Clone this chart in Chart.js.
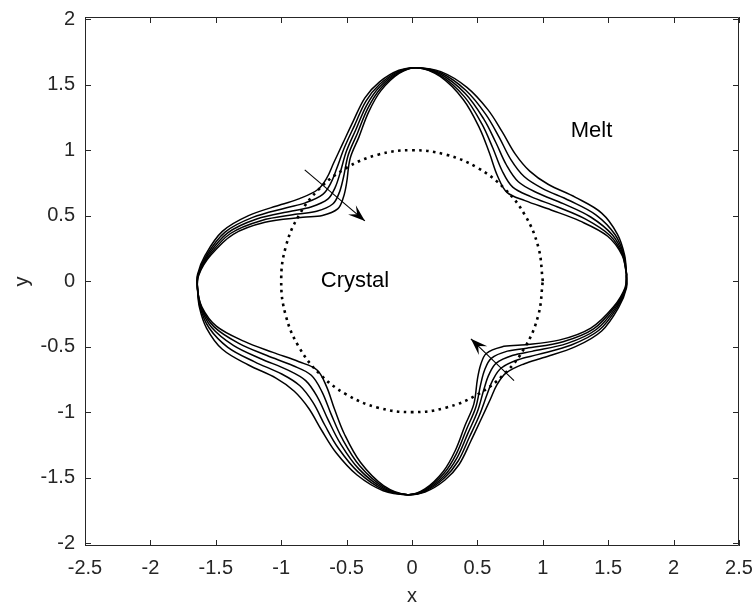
<!DOCTYPE html>
<html>
<head>
<meta charset="utf-8">
<script src="https://cdn.jsdelivr.net/npm/chart.js@4.4.1/dist/chart.umd.min.js"></script>
<style>
  html, body { margin: 0; padding: 0; background: #fff; }
</style>
</head>
<body>
<canvas id="chart" width="753" height="604"></canvas>
<script>
// axis ticks
const xTicks = [-2.5, -2, -1.5, -1, -0.5, 0, 0.5, 1, 1.5, 2, 2.5];
const xTickLabels = ['-2.5', '-2', '-1.5', '-1', '-0.5', '0', '0.5', '1', '1.5', '2', '2.5'];
const yTicks = [-2, -1.5, -1, -0.5, 0, 0.5, 1, 1.5, 2];
const yTickLabels = ['-2', '-1.5', '-1', '-0.5', '0', '0.5', '1', '1.5', '2'];

// interface curves, outermost (at the arrow waists) to innermost
const curve1 = [
  [1.640,0.055],
  [1.625,0.200],[1.570,0.360],[1.450,0.520],[1.250,0.640],[1.040,0.740],[0.900,0.840],[0.790,0.970],[0.690,1.140],[0.580,1.310],[0.420,1.480],[0.220,1.600],
  [0.035,1.630],
  [-0.100,1.610],[-0.250,1.520],[-0.360,1.400],[-0.450,1.220],[-0.530,1.050],[-0.600,0.900],[-0.650,0.790],[-0.720,0.700],[-0.860,0.630],[-1.000,0.585],[-1.250,0.500],[-1.450,0.380],[-1.580,0.200],[-1.640,0.050],
  [-1.640,-0.055],
  [-1.625,-0.200],[-1.570,-0.360],[-1.450,-0.520],[-1.250,-0.640],[-1.040,-0.740],[-0.900,-0.840],[-0.790,-0.970],[-0.690,-1.140],[-0.580,-1.310],[-0.420,-1.480],[-0.220,-1.600],
  [-0.035,-1.630],
  [0.100,-1.610],[0.250,-1.520],[0.360,-1.400],[0.450,-1.220],[0.530,-1.050],[0.600,-0.900],[0.650,-0.790],[0.720,-0.700],[0.860,-0.630],[1.000,-0.585],[1.250,-0.500],[1.450,-0.380],[1.580,-0.200],[1.640,-0.050],
  [1.640,0.055]
];
const curve2 = [
  [1.640,0.055],
  [1.620,0.199],[1.552,0.356],[1.408,0.505],[1.203,0.616],[0.996,0.709],[0.857,0.799],[0.756,0.928],[0.666,1.100],[0.564,1.274],[0.413,1.456],[0.219,1.591],
  [0.035,1.630],
  [-0.100,1.604],[-0.247,1.503],[-0.353,1.373],[-0.439,1.190],[-0.516,1.022],[-0.575,0.862],[-0.619,0.752],[-0.682,0.663],[-0.816,0.598],[-0.959,0.561],[-1.218,0.487],[-1.429,0.375],[-1.570,0.199],[-1.637,0.050],
  [-1.640,-0.055],
  [-1.620,-0.199],[-1.552,-0.356],[-1.408,-0.505],[-1.203,-0.616],[-0.996,-0.709],[-0.857,-0.799],[-0.756,-0.928],[-0.666,-1.100],[-0.564,-1.274],[-0.413,-1.456],[-0.219,-1.591],
  [-0.035,-1.630],
  [0.100,-1.604],[0.247,-1.503],[0.353,-1.373],[0.439,-1.190],[0.516,-1.022],[0.575,-0.862],[0.619,-0.752],[0.682,-0.663],[0.816,-0.598],[0.959,-0.561],[1.218,-0.487],[1.429,-0.375],[1.570,-0.199],[1.637,-0.050],
  [1.640,0.055]
];
const curve3 = [
  [1.640,0.055],
  [1.615,0.199],[1.533,0.352],[1.366,0.490],[1.156,0.592],[0.952,0.677],[0.813,0.759],[0.722,0.887],[0.641,1.059],[0.548,1.239],[0.407,1.433],[0.217,1.582],
  [0.035,1.630],
  [-0.099,1.598],[-0.245,1.487],[-0.346,1.345],[-0.428,1.160],[-0.501,0.993],[-0.550,0.825],[-0.588,0.714],[-0.644,0.626],[-0.773,0.566],[-0.917,0.536],[-1.187,0.475],[-1.409,0.369],[-1.560,0.198],[-1.634,0.050],
  [-1.640,-0.055],
  [-1.615,-0.199],[-1.533,-0.352],[-1.366,-0.490],[-1.156,-0.592],[-0.952,-0.677],[-0.813,-0.759],[-0.722,-0.887],[-0.641,-1.059],[-0.548,-1.239],[-0.407,-1.433],[-0.217,-1.582],
  [-0.035,-1.630],
  [0.099,-1.598],[0.245,-1.487],[0.346,-1.345],[0.428,-1.160],[0.501,-0.993],[0.550,-0.825],[0.588,-0.714],[0.644,-0.626],[0.773,-0.566],[0.917,-0.536],[1.187,-0.475],[1.409,-0.369],[1.560,-0.198],[1.634,-0.050],
  [1.640,0.055]
];
const curve4 = [
  [1.640,0.055],
  [1.610,0.198],[1.515,0.347],[1.324,0.475],[1.109,0.568],[0.908,0.646],[0.770,0.718],[0.688,0.845],[0.617,1.019],[0.533,1.203],[0.400,1.409],[0.216,1.572],
  [0.035,1.630],
  [-0.099,1.592],[-0.242,1.470],[-0.339,1.318],[-0.417,1.130],[-0.487,0.965],[-0.525,0.788],[-0.556,0.676],[-0.606,0.589],[-0.729,0.534],[-0.876,0.512],[-1.155,0.462],[-1.388,0.364],[-1.550,0.196],[-1.632,0.050],
  [-1.640,-0.055],
  [-1.610,-0.198],[-1.515,-0.347],[-1.324,-0.475],[-1.109,-0.568],[-0.908,-0.646],[-0.770,-0.718],[-0.688,-0.845],[-0.617,-1.019],[-0.533,-1.203],[-0.400,-1.409],[-0.216,-1.572],
  [-0.035,-1.630],
  [0.099,-1.592],[0.242,-1.470],[0.339,-1.318],[0.417,-1.130],[0.487,-0.965],[0.525,-0.788],[0.556,-0.676],[0.606,-0.589],[0.729,-0.534],[0.876,-0.512],[1.155,-0.462],[1.388,-0.364],[1.550,-0.196],[1.632,-0.050],
  [1.640,0.055]
];
const curve5 = [
  [1.640,0.055],
  [1.606,0.198],[1.496,0.343],[1.282,0.460],[1.063,0.544],[0.864,0.615],[0.726,0.678],[0.654,0.803],[0.592,0.978],[0.517,1.167],[0.393,1.385],[0.215,1.563],
  [0.035,1.630],
  [-0.099,1.586],[-0.239,1.453],[-0.332,1.291],[-0.406,1.100],[-0.473,0.937],[-0.500,0.750],[-0.525,0.638],[-0.568,0.552],[-0.685,0.502],[-0.834,0.488],[-1.124,0.450],[-1.367,0.358],[-1.541,0.195],[-1.629,0.050],
  [-1.640,-0.055],
  [-1.606,-0.198],[-1.496,-0.343],[-1.282,-0.460],[-1.063,-0.544],[-0.864,-0.615],[-0.726,-0.678],[-0.654,-0.803],[-0.592,-0.978],[-0.517,-1.167],[-0.393,-1.385],[-0.215,-1.563],
  [-0.035,-1.630],
  [0.099,-1.586],[0.239,-1.453],[0.332,-1.291],[0.406,-1.100],[0.473,-0.937],[0.500,-0.750],[0.525,-0.638],[0.568,-0.552],[0.685,-0.502],[0.834,-0.488],[1.124,-0.450],[1.367,-0.358],[1.541,-0.195],[1.629,-0.050],
  [1.640,0.055]
];

// initial crystal (unit circle, dotted)
const circlePts = [
  [1,0],[0.966,0.259],[0.866,0.5],[0.707,0.707],[0.5,0.866],[0.259,0.966],
  [0,1],[-0.259,0.966],[-0.5,0.866],[-0.707,0.707],[-0.866,0.5],[-0.966,0.259],
  [-1,0],[-0.966,-0.259],[-0.866,-0.5],[-0.707,-0.707],[-0.5,-0.866],[-0.259,-0.966],
  [0,-1],[0.259,-0.966],[0.5,-0.866],[0.707,-0.707],[0.866,-0.5],[0.966,-0.259],[1,0]
];

// arrows: tail -> head
const arrow1 = [[-0.82, 0.85], [-0.36, 0.46]];
const arrow2 = [[0.78, -0.76], [0.45, -0.44]];

// text labels
const meltPos = [1.372, 1.15];
const crystalPos = [-0.436, 0.0];

const axisColor = '#262626';
const fontFamily = '"Liberation Sans", Arial, Helvetica, sans-serif';

const toXY = pts => pts.map(p => ({ x: p[0], y: p[1] }));

function curveSet(pts, label) {
  return {
    label: label,
    data: toXY(pts),
    showLine: true,
    borderColor: '#000',
    borderWidth: 1.5,
    pointRadius: 0,
    tension: 0.35,
    fill: false,
    borderJoinStyle: 'round'
  };
}

// draws box, inward ticks, arrow heads and text
const overlay = {
  id: 'overlay',
  afterDraw(chart) {
    const { ctx, chartArea: a, scales: { x, y } } = chart;
    ctx.save();

    ctx.strokeStyle = axisColor;
    ctx.lineWidth = 1;
    ctx.beginPath();
    ctx.rect(a.left + 0.5, a.top + 0.5, a.right - a.left - 1, a.bottom - a.top - 1);
    const tl = 6;
    xTicks.forEach(v => {
      const px = Math.round(x.getPixelForValue(v)) + 0.5;
      ctx.moveTo(px, a.bottom);
      ctx.lineTo(px, a.bottom - tl);
      ctx.moveTo(px, a.top);
      ctx.lineTo(px, a.top + tl);
    });
    yTicks.forEach(v => {
      const py = Math.round(y.getPixelForValue(v)) + 0.5;
      ctx.moveTo(a.left, py);
      ctx.lineTo(a.left + tl, py);
      ctx.moveTo(a.right, py);
      ctx.lineTo(a.right - tl, py);
    });
    ctx.stroke();

    // arrow heads
    [arrow1, arrow2].forEach(arr => {
      const x0 = x.getPixelForValue(arr[0][0]), y0 = y.getPixelForValue(arr[0][1]);
      const x1 = x.getPixelForValue(arr[1][0]), y1 = y.getPixelForValue(arr[1][1]);
      const len = Math.hypot(x1 - x0, y1 - y0);
      const ux = (x1 - x0) / len, uy = (y1 - y0) / len;
      const nx = -uy, ny = ux;
      const L = 17, W = 12;
      ctx.fillStyle = '#000';
      ctx.beginPath();
      ctx.moveTo(x1, y1);
      ctx.lineTo(x1 - L * ux + W / 2 * nx, y1 - L * uy + W / 2 * ny);
      ctx.lineTo(x1 - L * 0.6 * ux, y1 - L * 0.6 * uy);
      ctx.lineTo(x1 - L * ux - W / 2 * nx, y1 - L * uy - W / 2 * ny);
      ctx.closePath();
      ctx.fill();
    });

    // text
    ctx.fillStyle = '#000';
    ctx.font = '22px ' + fontFamily;
    ctx.textAlign = 'center';
    ctx.textBaseline = 'middle';
    ctx.fillText('Melt', x.getPixelForValue(meltPos[0]), y.getPixelForValue(meltPos[1]));
    ctx.fillText('Crystal', x.getPixelForValue(crystalPos[0]), y.getPixelForValue(crystalPos[1]));

    // axis titles
    ctx.fillStyle = axisColor;
    ctx.font = '20px ' + fontFamily;
    ctx.fillText('x', (a.left + a.right) / 2, 596);
    ctx.translate(22, (a.top + a.bottom) / 2);
    ctx.rotate(-Math.PI / 2);
    ctx.fillText('y', 0, 0);

    ctx.restore();
  }
};

const ctx = document.getElementById('chart').getContext('2d');

new Chart(ctx, {
  type: 'scatter',
  data: {
    datasets: [
      {
        label: 'circle',
        data: toXY(circlePts),
        showLine: true,
        borderColor: '#000',
        borderWidth: 2.6,
        borderDash: [2.6, 4.4],
        borderCapStyle: 'butt',
        pointRadius: 0,
        tension: 0.4,
        fill: false
      },
      curveSet(curve1, 't1'),
      curveSet(curve2, 't2'),
      curveSet(curve3, 't3'),
      curveSet(curve4, 't4'),
      curveSet(curve5, 't5'),
      { label: 'arrow1', data: toXY(arrow1), showLine: true, borderColor: '#000', borderWidth: 1.1, pointRadius: 0 },
      { label: 'arrow2', data: toXY(arrow2), showLine: true, borderColor: '#000', borderWidth: 1.1, pointRadius: 0 }
    ]
  },
  options: {
    responsive: false,
    animation: false,
    events: [],
    layout: { padding: { left: 0, right: 14, top: 17, bottom: 0 } },
    plugins: { legend: { display: false }, tooltip: { enabled: false } },
    scales: {
      x: {
        type: 'linear',
        min: -2.5,
        max: 2.5,
        grid: { display: false, drawTicks: false },
        border: { display: false },
        ticks: {
          padding: 10,
          color: axisColor,
          autoSkip: false,
          maxRotation: 0,
          font: { family: fontFamily, size: 20 },
          callback: (v, i) => xTickLabels[i]
        },
        afterBuildTicks: s => { s.ticks = xTicks.map(v => ({ value: v })); },
        afterFit: s => { s.height = 58; s.paddingLeft = 0; s.paddingRight = 0; }
      },
      y: {
        type: 'linear',
        min: -2.022,
        max: 2.017,
        grid: { display: false, drawTicks: false },
        border: { display: false },
        ticks: {
          padding: 10,
          color: axisColor,
          autoSkip: false,
          font: { family: fontFamily, size: 20 },
          callback: (v, i) => yTickLabels[i]
        },
        afterBuildTicks: s => { s.ticks = yTicks.map(v => ({ value: v })); },
        afterFit: s => { s.width = 85; s.paddingTop = 0; s.paddingBottom = 0; }
      }
    }
  },
  plugins: [overlay]
});
</script>
</body>
</html>
